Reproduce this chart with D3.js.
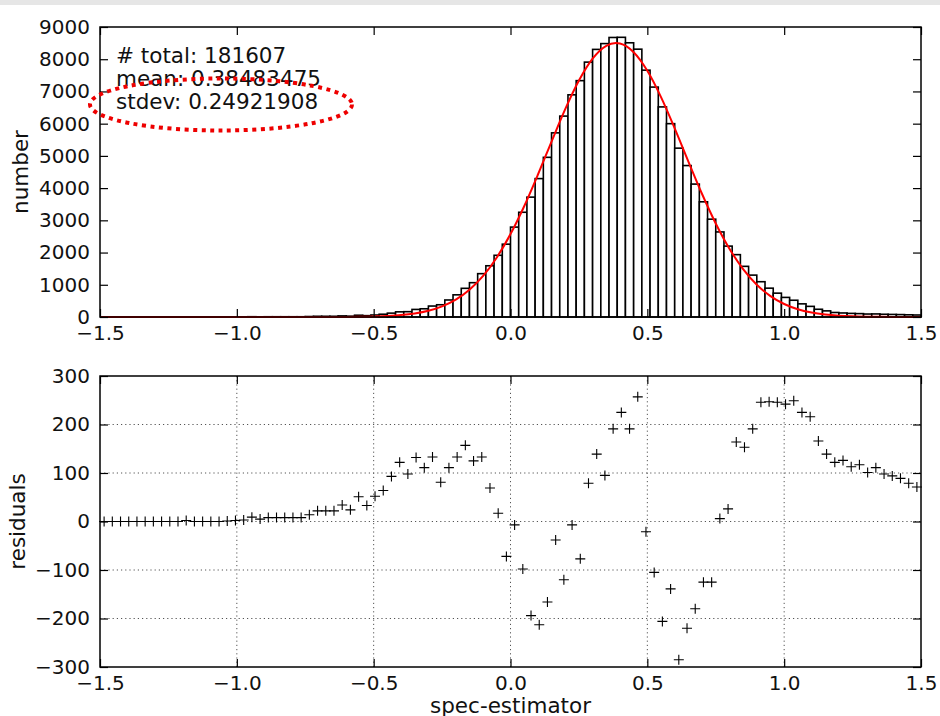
<!DOCTYPE html>
<html>
<head>
<meta charset="utf-8">
<script src="https://cdn.jsdelivr.net/npm/d3@7"></script>
<style>
  html, body { margin: 0; padding: 0; background: #fff; }
  svg { display: block; font-family: "DejaVu Sans", "Bitstream Vera Sans", sans-serif; }
</style>
</head>
<body>
<svg id="chart" width="940" height="716"></svg>
<script>
// Histogram binning of the spec-estimator values
const binStart = -1.5;
const binWidth = 0.03;

// Counts per bin (100 bins from -1.5 to 1.5)
const counts = [
  0, 0, 0, 0, 0, 0, 0, 0, 0, 0,
  2, 0, 0, 0, 0, 1, 2, 3, 9, 5,
  8, 8, 8, 8, 8, 15, 22, 22, 22, 34,
  26, 55, 42, 62, 86, 120, 160, 165, 235, 255,
  340, 380, 528, 688, 890, 1065, 1345, 1590, 1915, 2260,
  2790, 3250, 3720, 4295, 4955, 5715, 6235, 6895, 7335, 7910,
  8305, 8485, 8675, 8680, 8510, 8312, 7660, 7135, 6520, 6000,
  5240, 4700, 4125, 3575, 3036, 2640, 2200, 1935, 1572, 1300,
  1095, 895, 740, 608, 520, 408, 330, 240, 190, 140,
  125, 112, 105, 92, 95, 85, 80, 75, 68, 62
];

// Residuals (counts minus fitted curve) at each bin centre
const residuals = [
  0, 0, 0, 0, 0, 0, 0, 0, 0, 0,
  2, 0, 0, 0, 0, 1, 2, 3, 9, 5,
  8, 8, 8, 8, 8, 14, 22, 22, 22, 34,
  24, 51, 33, 52, 64, 93, 122, 98, 132, 111,
  133, 81, 111, 133, 157, 125, 133, 69, 17, -72,
  -7, -98, -194, -213, -166, -38, -120, -7, -77, 79,
  139, 95, 191, 225, 191, 257, -21, -105, -206, -139,
  -285, -220, -180, -125, -125, 6, 26, 164, 153, 191,
  246, 247, 246, 242, 249, 225, 216, 166, 139, 122,
  126, 113, 117, 101, 111, 98, 94, 89, 79, 71
];

// Fitted normal curve, sampled along the x axis
const fitX = [-1.5, -0.7, -0.65, -0.6, -0.55, -0.5, -0.45, -0.4, -0.35, -0.3,
  -0.25, -0.2, -0.15, -0.1, -0.05, 0, 0.05, 0.1, 0.15, 0.2,
  0.25, 0.3, 0.35, 0.385, 0.4, 0.45, 0.5, 0.55, 0.6, 0.65,
  0.7, 0.75, 0.8, 0.85, 0.9, 0.95, 1.0, 1.05, 1.1, 1.15,
  1.2, 1.25, 1.3, 1.35, 1.4, 1.5];
const fitY = [0, 1, 2, 3, 7, 15, 31, 59, 109, 193,
  329, 538, 846, 1275, 1848, 2573, 3438, 4415, 5445, 6450,
  7338, 8019, 8417, 8500, 8485, 8215, 7640, 6825, 5855, 4825,
  3818, 2903, 2120, 1487, 1001, 648, 403, 240, 138, 76,
  40, 20, 10, 5, 2, 0];

const statLines = ["# total: 181607", "mean: 0.38483475", "stdev: 0.24921908"];

const xTicks = [-1.5, -1.0, -0.5, 0.0, 0.5, 1.0, 1.5];
const countTicks = [0, 1000, 2000, 3000, 4000, 5000, 6000, 7000, 8000, 9000];
const residualTicks = [-300, -200, -100, 0, 100, 200, 300];

const xLabel = "spec-estimator";
const countLabel = "number";
const residualLabel = "residuals";

// ---------------------------------------------------------------------------
const svg = d3.select("#chart");
const W = 940;

const topPanel = { left: 100, right: 921, top: 27, bottom: 317 };
const botPanel = { left: 100, right: 921, top: 376, bottom: 667 };

const x = d3.scaleLinear().domain([-1.5, 1.5]).range([topPanel.left, topPanel.right]);
const yCount = d3.scaleLinear().domain([0, 9000]).range([topPanel.bottom, topPanel.top]);
const yRes = d3.scaleLinear().domain([-300, 300]).range([botPanel.bottom, botPanel.top]);

const tickFont = 20;
const labelFont = 21.5;
const fmtX = d3.format(".1f");
const fmtY = d3.format("d");

// thin grey strip along the top edge
svg.append("rect").attr("x", 0).attr("y", 0).attr("width", W).attr("height", 5).attr("fill", "#e6e6e6");

function styleAxis(g, withText) {
  g.select(".domain").remove();
  g.selectAll(".tick line").attr("stroke", "#000").attr("stroke-width", 1.2);
  if (withText) {
    g.selectAll(".tick text").attr("fill", "#111").style("font-size", tickFont + "px")
      .style("font-family", '"DejaVu Sans", sans-serif');
  } else {
    g.selectAll(".tick text").remove();
  }
}

function drawAxes(panel, yScale, yTicks) {
  const tick = 8;
  svg.append("g").attr("transform", `translate(0,${panel.bottom})`)
    .call(d3.axisBottom(x).tickValues(xTicks).tickFormat(fmtX).tickSizeInner(-tick).tickSizeOuter(0).tickPadding(9))
    .call(g => styleAxis(g, true));
  svg.append("g").attr("transform", `translate(0,${panel.top})`)
    .call(d3.axisTop(x).tickValues(xTicks).tickSizeInner(-tick).tickSizeOuter(0))
    .call(g => styleAxis(g, false));
  svg.append("g").attr("transform", `translate(${panel.left},0)`)
    .call(d3.axisLeft(yScale).tickValues(yTicks).tickFormat(fmtY).tickSizeInner(-tick).tickSizeOuter(0).tickPadding(10))
    .call(g => styleAxis(g, true));
  svg.append("g").attr("transform", `translate(${panel.right},0)`)
    .call(d3.axisRight(yScale).tickValues(yTicks).tickSizeInner(-tick).tickSizeOuter(0))
    .call(g => styleAxis(g, false));
  svg.append("rect")
    .attr("x", panel.left).attr("y", panel.top)
    .attr("width", panel.right - panel.left).attr("height", panel.bottom - panel.top)
    .attr("fill", "none").attr("stroke", "#000").attr("stroke-width", 1.5);
}

// ---- upper panel: histogram with fitted curve ----
const binIdx = d3.range(counts.length);
svg.append("g").selectAll("rect").data(binIdx).join("rect")
  .attr("x", i => x(binStart + i * binWidth))
  .attr("width", i => x(binStart + (i + 1) * binWidth) - x(binStart + i * binWidth))
  .attr("y", i => yCount(counts[i]))
  .attr("height", i => yCount(0) - yCount(counts[i]))
  .attr("fill", "#fff").attr("stroke", "#000").attr("stroke-width", 1.6);

const fitLine = d3.line().x(d => x(d[0])).y(d => yCount(d[1])).curve(d3.curveMonotoneX);
svg.append("path").datum(d3.zip(fitX, fitY))
  .attr("d", fitLine).attr("fill", "none").attr("stroke", "#ff0000").attr("stroke-width", 2);

drawAxes(topPanel, yCount, countTicks);

svg.append("g").selectAll("text").data(statLines).join("text")
  .attr("x", 116).attr("y", (d, i) => 63 + i * 23.2)
  .attr("fill", "#111").style("font-size", labelFont + "px").text(d => d);

// dotted ellipse highlighting the spread
svg.append("ellipse")
  .attr("cx", 221).attr("cy", 104.5).attr("rx", 131).attr("ry", 26)
  .attr("fill", "none").attr("stroke", "#ee0000").attr("stroke-width", 4)
  .attr("stroke-dasharray", "4,4.5");

svg.append("text")
  .attr("transform", `translate(28,${(topPanel.top + topPanel.bottom) / 2}) rotate(-90)`)
  .attr("text-anchor", "middle").attr("fill", "#111").style("font-size", labelFont + "px")
  .text(countLabel);

// ---- lower panel: residuals ----
const grid = svg.append("g").attr("stroke", "#555").attr("stroke-width", 1).attr("stroke-dasharray", "1.2,3");
grid.selectAll("line.v").data(xTicks.slice(1, -1)).join("line").attr("class", "v")
  .attr("x1", d => x(d)).attr("x2", d => x(d)).attr("y1", botPanel.top).attr("y2", botPanel.bottom);
grid.selectAll("line.h").data(residualTicks.slice(1, -1)).join("line").attr("class", "h")
  .attr("x1", botPanel.left).attr("x2", botPanel.right).attr("y1", d => yRes(d)).attr("y2", d => yRes(d));

svg.append("g").selectAll("path").data(binIdx).join("path")
  .attr("transform", i => `translate(${x(binStart + (i + 0.5) * binWidth)},${yRes(residuals[i])})`)
  .attr("d", "M-5,0H5M0,-5V5")
  .attr("stroke", "#000").attr("stroke-width", 1.1).attr("fill", "none");

drawAxes(botPanel, yRes, residualTicks);

svg.append("text")
  .attr("transform", `translate(25,${(botPanel.top + botPanel.bottom) / 2}) rotate(-90)`)
  .attr("text-anchor", "middle").attr("fill", "#111").style("font-size", labelFont + "px")
  .text(residualLabel);

svg.append("text")
  .attr("x", (botPanel.left + botPanel.right) / 2).attr("y", 712.5)
  .attr("text-anchor", "middle").attr("fill", "#111").style("font-size", labelFont + "px")
  .text(xLabel);
</script>
</body>
</html>
